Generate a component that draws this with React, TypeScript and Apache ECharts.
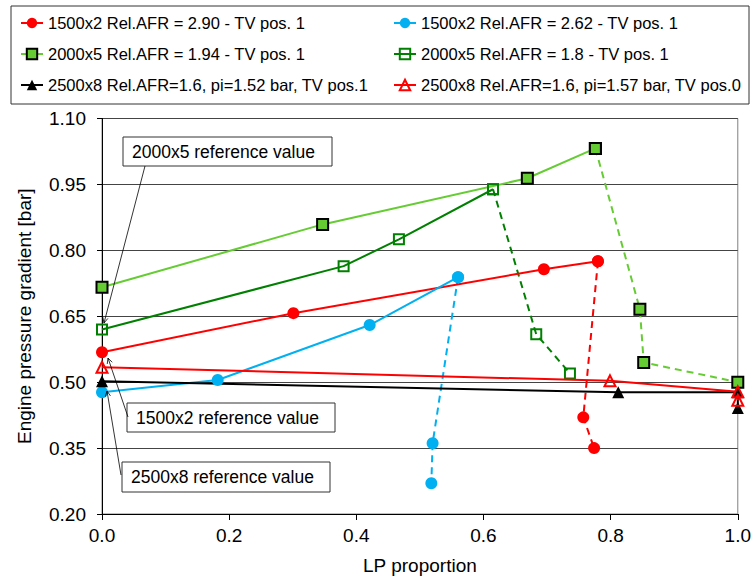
import React, { useEffect, useRef } from "react";
import * as echarts from "echarts";

// ---- data ----
const xTickValues = [0, 0.2, 0.4, 0.6, 0.8, 1.0];
const yTickValues = [0.2, 0.35, 0.5, 0.65, 0.8, 0.95, 1.1];

const nameRed290 = "1500x2 Rel.AFR = 2.90 - TV pos. 1";
const nameCyan262 = "1500x2 Rel.AFR = 2.62 - TV pos. 1";
const nameGreen194 = "2000x5 Rel.AFR = 1.94 - TV pos. 1";
const nameGreen18 = "2000x5 Rel.AFR = 1.8 - TV pos. 1";
const nameBlack152 = "2500x8 Rel.AFR=1.6, pi=1.52 bar, TV pos.1";
const nameRed157 = "2500x8 Rel.AFR=1.6, pi=1.57 bar, TV pos.0";

const red290Solid: [number, number][] = [[0, 0.568], [0.301, 0.657], [0.695, 0.757], [0.78, 0.775]];
const red290Dashed: [number, number][] = [[0.78, 0.775], [0.757, 0.42], [0.774, 0.35]];
const cyan262Solid: [number, number][] = [[0, 0.477], [0.182, 0.505], [0.421, 0.63], [0.56, 0.739]];
const cyan262Dashed: [number, number][] = [[0.56, 0.739], [0.52, 0.361], [0.518, 0.27]];
const green194Solid: [number, number][] = [[0, 0.716], [0.347, 0.859], [0.669, 0.964], [0.776, 1.032]];
const green194Dashed: [number, number][] = [[0.776, 1.032], [0.846, 0.666], [0.852, 0.545], [1.0, 0.5]];
const green18Solid: [number, number][] = [[0, 0.62], [0.38, 0.764], [0.467, 0.825], [0.615, 0.939]];
const green18Dashed: [number, number][] = [[0.615, 0.939], [0.683, 0.609], [0.736, 0.52]];
const black152: [number, number][] = [[0, 0.502], [0.812, 0.477], [1.0, 0.477], [1.0, 0.441]];
const red157: [number, number][] = [[0, 0.534], [0.799, 0.503], [1.0, 0.478], [1.0, 0.459]];

const annotations = [
  { text: "2000x5 reference value", box: [123, 137, 209, 29], from: [145, 166], to: [104, 323] },
  { text: "1500x2 reference value", box: [127, 403, 208, 29], from: [128, 417], to: [108, 358] },
  { text: "2500x8 reference value", box: [122, 462, 208, 30], from: [121, 475], to: [107, 391] },
];

const FONT = "'Liberation Sans', Arial, Helvetica, sans-serif";

function arrowElements(from: number[], to: number[]) {
  const [x1, y1] = from;
  const [x2, y2] = to;
  const dx = x2 - x1;
  const dy = y2 - y1;
  const len = Math.sqrt(dx * dx + dy * dy);
  const ux = dx / len;
  const uy = dy / len;
  const L = 6;
  const ang = 0.45;
  const c = Math.cos(ang);
  const s = Math.sin(ang);
  const ax = x2 - L * (ux * c - uy * s);
  const ay = y2 - L * (uy * c + ux * s);
  const bx = x2 - L * (ux * c + uy * s);
  const by = y2 - L * (uy * c - ux * s);
  return [
    { type: "line", shape: { x1, y1, x2, y2 }, style: { stroke: "#000", lineWidth: 0.8 }, z: 100 },
    { type: "polyline", shape: { points: [[ax, ay], [x2, y2], [bx, by]] }, style: { stroke: "#000", lineWidth: 0.8, fill: "none" }, z: 100 },
  ];
}

function solidSeries(name: string, data: [number, number][], color: string, symbol: string, fill: string, border: string, size: number) {
  return {
    name,
    type: "line",
    data,
    symbol,
    symbolSize: size,
    lineStyle: { color, width: 2 },
    itemStyle: { color: fill, borderColor: border, borderWidth: border === fill ? 0 : 2 },
    z: 3,
  };
}

function dashedSeries(name: string, data: [number, number][], color: string, symbol: string, fill: string, border: string, size: number) {
  return {
    name: name + " (dashed)",
    type: "line",
    data,
    symbol,
    symbolSize: size,
    lineStyle: { color, width: 2, type: [7, 5] },
    itemStyle: { color: fill, borderColor: border, borderWidth: border === fill ? 0 : 2 },
    z: 2,
  };
}

export default function App() {
  const ref = useRef<HTMLDivElement>(null);
  useEffect(() => {
    if (!ref.current) return;
    const chart = echarts.init(ref.current, null, { renderer: "svg" });
    const graphics: any[] = [
      { type: "rect", shape: { x: 11, y: 6, width: 738, height: 98 }, style: { fill: "none", stroke: "#333", lineWidth: 1 }, z: 100 },
    ];
    annotations.forEach((a) => {
      graphics.push({
        type: "rect",
        shape: { x: a.box[0], y: a.box[1], width: a.box[2], height: a.box[3] },
        style: { fill: "#fff", stroke: "#333", lineWidth: 1 },
        z: 100,
      });
      graphics.push({
        type: "text",
        x: a.box[0] + 9,
        y: a.box[1] + a.box[3] / 2,
        style: { text: a.text, fontSize: 17.5, fontFamily: FONT, fill: "#000", verticalAlign: "middle", align: "left" },
        z: 101,
      });
      graphics.push(...arrowElements(a.from, a.to));
    });

    const legendCommon = {
      orient: "vertical",
      top: 13,
      padding: 0,
      itemWidth: 22,
      itemHeight: 13,
      itemGap: 11,
      textStyle: { fontSize: 16.5, fontFamily: FONT, color: "#000", lineHeight: 20 },
    };

    chart.setOption({
      animation: false,
      backgroundColor: "#fff",
      textStyle: { fontFamily: FONT },
      grid: { left: 102, right: 15, top: 118.5, bottom: 66, show: true, borderColor: "#808080", borderWidth: 1, containLabel: false },
      legend: [
        { ...legendCommon, left: 20, data: [nameRed290, nameGreen194, nameBlack152] },
        { ...legendCommon, left: 393, data: [nameCyan262, nameGreen18, nameRed157] },
      ],
      xAxis: {
        type: "value",
        min: xTickValues[0],
        max: xTickValues[xTickValues.length - 1],
        interval: 0.2,
        name: "LP proportion",
        nameLocation: "middle",
        nameGap: 42,
        nameTextStyle: { fontSize: 19, color: "#000", fontFamily: FONT },
        axisLine: { onZero: false, lineStyle: { color: "#000", width: 1 } },
        axisTick: { show: true, inside: false, length: 6, lineStyle: { color: "#000" } },
        axisLabel: { fontSize: 19, color: "#000", margin: 12, formatter: (v: number) => v.toFixed(1) },
        splitLine: { show: false },
      },
      yAxis: {
        type: "value",
        min: yTickValues[0],
        max: yTickValues[yTickValues.length - 1],
        interval: 0.15,
        name: "Engine pressure gradient [bar]",
        nameLocation: "middle",
        nameGap: 68,
        nameTextStyle: { fontSize: 19, color: "#000", fontFamily: FONT },
        axisLine: { onZero: false, lineStyle: { color: "#000", width: 1 } },
        axisTick: { show: true, inside: false, length: 5, lineStyle: { color: "#000" } },
        axisLabel: { fontSize: 19, color: "#000", margin: 16, formatter: (v: number) => v.toFixed(2) },
        splitLine: { show: true, lineStyle: { color: "#444", width: 1 } },
      },
      graphic: graphics,
      series: [
        solidSeries(nameRed290, red290Solid, "#FF0000", "circle", "#FF0000", "#FF0000", 12),
        dashedSeries(nameRed290, red290Dashed, "#FF0000", "circle", "#FF0000", "#FF0000", 12),
        solidSeries(nameCyan262, cyan262Solid, "#00B0F0", "circle", "#00B0F0", "#00B0F0", 12),
        dashedSeries(nameCyan262, cyan262Dashed, "#00B0F0", "circle", "#00B0F0", "#00B0F0", 12),
        solidSeries(nameGreen194, green194Solid, "#66CC33", "rect", "#66CC33", "#000", 11),
        dashedSeries(nameGreen194, green194Dashed, "#66CC33", "rect", "#66CC33", "#000", 11),
        solidSeries(nameGreen18, green18Solid, "#008000", "rect", "rgba(0,0,0,0)", "#008000", 10),
        dashedSeries(nameGreen18, green18Dashed, "#008000", "rect", "rgba(0,0,0,0)", "#008000", 10),
        solidSeries(nameBlack152, black152, "#000", "triangle", "#000", "#000", 12),
        solidSeries(nameRed157, red157, "#FF0000", "triangle", "rgba(0,0,0,0)", "#FF0000", 11),
      ],
    });
    return () => chart.dispose();
  }, []);
  return <div ref={ref} style={{ position: "fixed", left: 0, top: 0, width: 754, height: 580 }} />;
}
